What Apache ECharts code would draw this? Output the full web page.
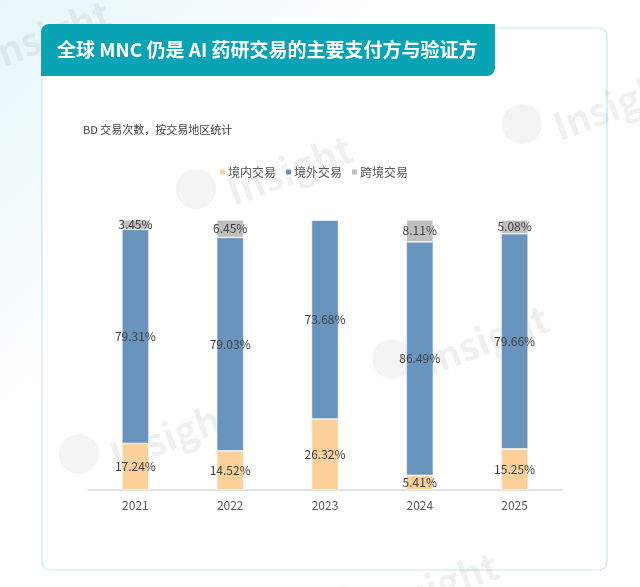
<!DOCTYPE html>
<html>
<head>
<meta charset="utf-8">
<script src="https://cdn.jsdelivr.net/npm/echarts@6/dist/echarts.min.js"></script>
<style>
  html, body { margin: 0; padding: 0; background: #fff; }
  #main { width: 640px; height: 587px; }
</style>
</head>
<body>
<div id="main"></div>
<script>
// BD deals by region, share of each year (%)
var years = ['2021', '2022', '2023', '2024', '2025'];
var domestic = [17.24, 14.52, 26.32, 5.41, 15.25];   // 境内交易
var overseas = [79.31, 79.03, 73.68, 86.49, 79.66];  // 境外交易
var crossBorder = [3.45, 6.45, 0, 8.11, 5.08];       // 跨境交易

var FONT = '"Noto Sans CJK SC", "Noto Sans", sans-serif';

var dom_chart = document.getElementById('main');
var myChart = echarts.init(dom_chart);

var pctLabel = {
    show: true,
    position: 'inside',
    color: '#404040',
    fontSize: 12,
    fontFamily: FONT,
    formatter: function (p) { return p.value ? p.value.toFixed(2) + '%' : ''; }
};

// faint "Insight" watermarks behind the plot
var marks = [[-20, 40], [548, 110], [222, 175], [418, 345], [105, 440], [368, 592], [-150, 262]];
var watermark = [];
for (var i = 0; i < marks.length; i++) {
    watermark.push({
        type: 'text', z: -1, x: marks[i][0], y: marks[i][1], rotation: 0.36,
        style: { text: 'Insight', fill: 'rgba(0,0,0,0.06)', font: 'bold 38px ' + FONT }
    });
    watermark.push({
        type: 'circle', z: -1, shape: { cx: marks[i][0] - 26, cy: marks[i][1] + 14, r: 20 },
        style: { fill: 'rgba(0,0,0,0.045)' }
    });
}

var option = {
    backgroundColor: new echarts.graphic.LinearGradient(0, 0, 1, 1, [
        { offset: 0, color: '#e6f6fa' }, { offset: 0.35, color: '#ffffff' }, { offset: 1, color: '#ffffff' }
    ]),
    animation: false,
    graphic: [
        { type: 'rect', z: -2, shape: { x: 42, y: 28, width: 565, height: 542, r: 8 },
          style: { fill: '#ffffff', stroke: '#c4e7ef', lineWidth: 1.2 } }
    ].concat(watermark).concat([
        { type: 'rect', z: 10, shape: { x: 41, y: 24, width: 454, height: 52, r: [8, 0, 8, 0] },
          style: { fill: '#0aa2b5' } },
        { type: 'text', z: 11, x: 57, y: 50,
          style: { text: '全球 MNC 仍是 AI 药研交易的主要支付方与验证方', fill: '#ffffff',
                   font: 'bold 19px ' + FONT, textVerticalAlign: 'middle' } },
        { type: 'text', z: 11, x: 83, y: 130,
          style: { text: 'BD 交易次数，按交易地区统计', fill: '#404040',
                   font: '11px ' + FONT, textVerticalAlign: 'middle' } }
    ]),
    legend: {
        left: 218, top: 166, padding: 0,
        itemWidth: 7, itemHeight: 7, itemGap: 8,
        icon: 'rect',
        textStyle: { color: '#595959', fontSize: 12, fontFamily: FONT, padding: [0, 0, 0, -3] },
        data: ['境内交易', '境外交易', '跨境交易']
    },
    grid: { left: 88, top: 220, width: 474, height: 270 },
    xAxis: {
        type: 'category',
        data: years,
        axisLine: { lineStyle: { color: '#d9d9d9', width: 1.5 } },
        axisTick: { show: false },
        axisLabel: { color: '#595959', fontSize: 12, fontFamily: FONT, margin: 9 }
    },
    yAxis: { type: 'value', min: 0, max: 100, show: false },
    series: [
        { name: '境内交易', type: 'bar', stack: 'all', barWidth: 27, data: domestic,
          itemStyle: { color: '#fed09a', borderColor: '#ffffff', borderWidth: 0.6 }, label: pctLabel },
        { name: '境外交易', type: 'bar', stack: 'all', barWidth: 27, data: overseas,
          itemStyle: { color: '#6894be', borderColor: '#ffffff', borderWidth: 0.6 }, label: pctLabel },
        { name: '跨境交易', type: 'bar', stack: 'all', barWidth: 27, data: crossBorder,
          itemStyle: { color: '#bfbfbf', borderColor: '#ffffff', borderWidth: 0.6 }, label: pctLabel }
    ]
};
myChart.setOption(option);
</script>
</body>
</html>
